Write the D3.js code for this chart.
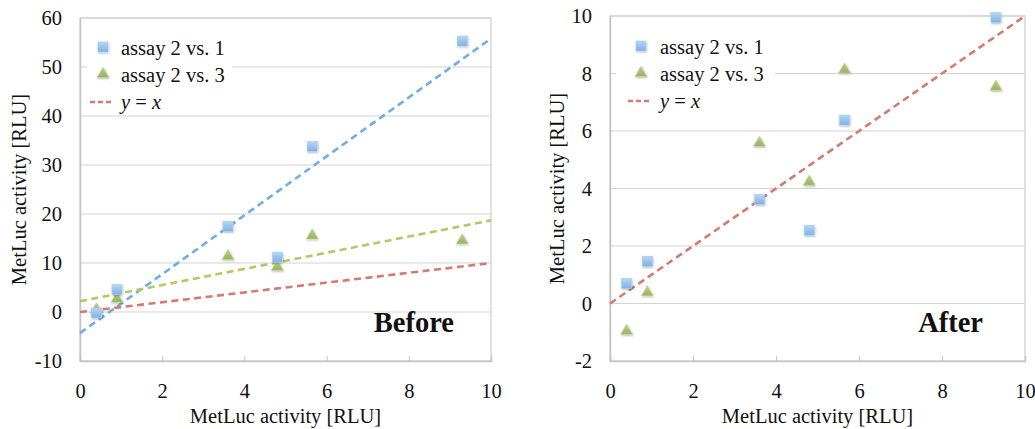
<!DOCTYPE html>
<html>
<head>
<meta charset="utf-8">
<script src="https://cdn.jsdelivr.net/npm/d3@7"></script>
<style>
  body { margin: 0; background: #fff; }
</style>
</head>
<body>
<svg id="chart" width="1035" height="429"></svg>
<script>
// ---- data ----
var xValues = [0.4, 0.9, 3.6, 4.8, 5.65, 9.3];
var xTicks = [0, 2, 4, 6, 8, 10];

var before21 = [-0.2, 4.6, 17.5, 11.2, 33.8, 55.3];
var before23 = [0.3, 2.5, 11.2, 9.0, 15.4, 14.4];
var beforeTrend21 = [[0, -4.3], [10, 55.8]];
var beforeTrend23 = [[0, 2.2], [10, 18.7]];
var beforeYTicks = [-10, 0, 10, 20, 30, 40, 50, 60];

var after21 = [0.7, 1.47, 3.62, 2.55, 6.38, 9.95];
var after23 = [-0.99, 0.35, 5.55, 4.2, 8.1, 7.5];
var afterYTicks = [-2, 0, 2, 4, 6, 8, 10];

var identity = [[0, 0], [10, 10]];
var legendLabels = ["assay 2 vs. 1", "assay 2 vs. 3", "y = x"];

var FONT = "'Liberation Serif', 'Times New Roman', serif";
var blueLine = '#6eaee6';
var greenLine = '#b0cb64';
var red = '#d47a70';

var svg = d3.select('#chart');
var defs = svg.append('defs');

var gB = defs.append('linearGradient').attr('id', 'gradBlue')
    .attr('x1', 0).attr('y1', 0).attr('x2', 0).attr('y2', 1);
gB.append('stop').attr('offset', 0).attr('stop-color', '#b6d6f4');
gB.append('stop').attr('offset', 1).attr('stop-color', '#7fb2e3');
var gG = defs.append('linearGradient').attr('id', 'gradGreen')
    .attr('x1', 0).attr('y1', 0).attr('x2', 0).attr('y2', 1);
gG.append('stop').attr('offset', 0).attr('stop-color', '#bcd08a');
gG.append('stop').attr('offset', 1).attr('stop-color', '#97b35c');

var shadow = defs.append('filter').attr('id', 'shadow')
    .attr('x', '-50%').attr('y', '-50%').attr('width', '200%').attr('height', '200%');
shadow.append('feDropShadow').attr('dx', 0.5).attr('dy', 1).attr('stdDeviation', 0.8)
    .attr('flood-color', '#000').attr('flood-opacity', 0.3);

function label(sel, size) {
  return sel.style('font-family', FONT).style('font-size', size).attr('fill', '#111');
}

function drawPanel(p) {
  var x = d3.scaleLinear().domain([0, 10]).range([p.left, p.right]);
  var y = d3.scaleLinear().domain(p.yDomain).range([p.bottom, p.top]);
  var g = svg.append('g');

  // gridlines
  g.selectAll('.grid').data(p.yTicks).enter().append('line')
    .attr('x1', p.left).attr('x2', p.right)
    .attr('y1', function(d) { return y(d); }).attr('y2', function(d) { return y(d); })
    .attr('stroke', '#d3d3d3').attr('stroke-width', 1);

  // frame
  g.append('rect')
    .attr('x', p.left).attr('y', p.top)
    .attr('width', p.right - p.left).attr('height', p.bottom - p.top)
    .attr('fill', 'none').attr('stroke', '#d6d6d6').attr('stroke-width', 1.5);

  // y axis
  var yAxis = d3.axisLeft(y).tickValues(p.yTicks).tickSize(0).tickPadding(18)
    .tickFormat(function(d) { return String(d); });
  var ya = g.append('g').attr('transform', 'translate(' + p.left + ',0)').call(yAxis);
  ya.select('.domain').attr('stroke', '#c4c4c4').attr('stroke-width', 1.5);
  label(ya.selectAll('text'), '20.5px').attr('dy', '0.34em');

  // x axis (ticks point inward)
  var xAxis = d3.axisBottom(x).tickValues(xTicks).tickSize(-5).tickPadding(22);
  var xa = g.append('g').attr('transform', 'translate(0,' + p.bottom + ')').call(xAxis);
  xa.select('.domain').attr('stroke', '#c4c4c4').attr('stroke-width', 1.5);
  xa.selectAll('.tick line').attr('stroke', '#c4c4c4');
  label(xa.selectAll('text'), '20.5px');

  // axis titles
  label(g.append('text'), '20.5px')
    .attr('x', (p.left + p.right) / 2).attr('y', 423)
    .attr('text-anchor', 'middle')
    .text('MetLuc activity [RLU]');
  label(g.append('text'), '20.5px')
    .attr('transform', 'translate(' + p.yTitleX + ',' + ((p.top + p.bottom) / 2) + ') rotate(-90)')
    .attr('text-anchor', 'middle')
    .text('MetLuc activity [RLU]');

  // trend / reference lines
  var line = d3.line().x(function(d) { return x(d[0]); }).y(function(d) { return y(d[1]); });
  p.lines.forEach(function(l) {
    g.append('path').datum(l.data).attr('d', line)
      .attr('fill', 'none').attr('stroke', l.color)
      .attr('stroke-width', 2.6).attr('stroke-dasharray', '7,4.5');
  });

  // markers
  var tri = d3.symbol().type(d3.symbolTriangle).size(60);
  g.selectAll('.tri').data(p.s23).enter().append('path')
    .attr('d', tri)
    .attr('transform', function(d, i) { return 'translate(' + x(xValues[i]) + ',' + (y(d) - 1) + ')'; })
    .attr('fill', 'url(#gradGreen)').attr('stroke', '#c3d59a').attr('stroke-width', 0.6)
    .attr('filter', 'url(#shadow)');
  g.selectAll('.sq').data(p.s21).enter().append('rect')
    .attr('x', function(d, i) { return x(xValues[i]) - 5; })
    .attr('y', function(d) { return y(d) - 5; })
    .attr('width', 10).attr('height', 10)
    .attr('fill', 'url(#gradBlue)').attr('stroke', '#a9cdf0').attr('stroke-width', 0.6)
    .attr('filter', 'url(#shadow)');

  // legend
  var L = p.legend;
  g.append('rect').attr('x', L.x).attr('y', L.y).attr('width', L.w).attr('height', 84)
    .attr('fill', '#fff');
  var rowY = [L.y + 19, L.y + 46, L.y + 73];
  g.append('rect').attr('x', L.x + L.sym - 5).attr('y', rowY[0] - 5)
    .attr('width', 10).attr('height', 10)
    .attr('fill', 'url(#gradBlue)').attr('stroke', '#a9cdf0').attr('stroke-width', 0.6)
    .attr('filter', 'url(#shadow)');
  g.append('path').attr('d', tri)
    .attr('transform', 'translate(' + (L.x + L.sym) + ',' + rowY[1] + ')')
    .attr('fill', 'url(#gradGreen)').attr('stroke', '#c3d59a').attr('stroke-width', 0.6)
    .attr('filter', 'url(#shadow)');
  g.append('line').attr('x1', L.x + L.sym - 13).attr('x2', L.x + L.sym + 11)
    .attr('y1', rowY[2] + 1).attr('y2', rowY[2] + 1)
    .attr('stroke', red).attr('stroke-width', 2.4).attr('stroke-dasharray', '5,3');
  legendLabels.forEach(function(t, i) {
    var tx = label(g.append('text'), '20.5px').attr('x', L.x + L.text).attr('y', rowY[i] + 8);
    if (i === 2) {
      tx.append('tspan').style('font-style', 'italic').text('y');
      tx.append('tspan').text(' = ');
      tx.append('tspan').style('font-style', 'italic').text('x');
    } else {
      tx.text(t);
    }
  });

  // panel label
  label(g.append('text'), '28.5px')
    .attr('x', p.labelX).attr('y', 332)
    .attr('text-anchor', 'end').style('font-weight', 'bold')
    .text(p.label);
}

drawPanel({
  left: 80, right: 491, top: 18, bottom: 361,
  yDomain: [-10, 60], yTicks: beforeYTicks, yTitleX: 26,
  s21: before21, s23: before23,
  lines: [
    { data: beforeTrend21, color: blueLine },
    { data: beforeTrend23, color: greenLine },
    { data: identity, color: red }
  ],
  legend: { x: 87, y: 28, w: 145, sym: 16, text: 34 },
  label: 'Before', labelX: 454
});

drawPanel({
  left: 610, right: 1025, top: 16, bottom: 361,
  yDomain: [-2, 10], yTicks: afterYTicks, yTitleX: 564,
  s21: after21, s23: after23,
  lines: [
    { data: identity, color: red }
  ],
  legend: { x: 616, y: 27, w: 159, sym: 25, text: 44 },
  label: 'After', labelX: 983
});
</script>
</body>
</html>
